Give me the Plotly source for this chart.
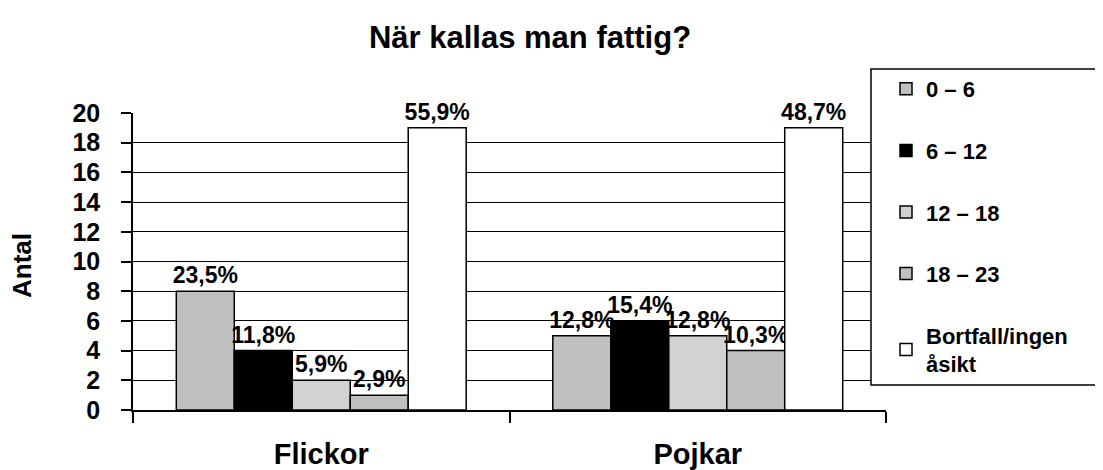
import plotly.graph_objects as go

categories = ["Flickor", "Pojkar"]
series_names = ["0 – 6", "6 – 12", "12 – 18", "18 – 23", "Bortfall/ingen<br>åsikt"]
vals_0_6 = [8, 5]
vals_6_12 = [4, 6]
vals_12_18 = [2, 5]
vals_18_23 = [1, 4]
vals_bortfall = [19, 19]
lab_0_6 = ["23,5%", "12,8%"]
lab_6_12 = ["11,8%", "15,4%"]
lab_12_18 = ["5,9%", "12,8%"]
lab_18_23 = ["2,9%", "10,3%"]
lab_bortfall = ["55,9%", "48,7%"]
y_ticks = list(range(0, 21, 2))

series_values = [vals_0_6, vals_6_12, vals_12_18, vals_18_23, vals_bortfall]
series_labels = [lab_0_6, lab_6_12, lab_12_18, lab_18_23, lab_bortfall]
colors = ["#c0c0c0", "#000000", "#d2d2d2", "#bfbfbf", "#ffffff"]

FONT = "Liberation Sans, Arial, sans-serif"

# the page body has an 8px margin; layout coords = screen coords - OFF
OFF = 8
W, H = 1103, 470
L, R, T, B = 133 - OFF, 886 - OFF, 113 - OFF, 410 - OFF
PW, PH = R - L, B - T


def px_x(p):  # screen x -> paper x
    return (p - OFF - L) / PW


def px_y(p):  # screen y -> paper y
    return (B - (p - OFF)) / PH


fig = go.Figure()
for i, (name, v, lab) in enumerate(zip(series_names, series_values, series_labels)):
    fig.add_trace(go.Bar(
        x=categories, y=v, name=name, text=lab,
        textposition="outside", constraintext="none", cliponaxis=False,
        textfont=dict(family=FONT, size=23, color="black", weight="bold"),
        marker=dict(color=colors[i], line=dict(color="black", width=1.5)),
        legendgroup=f"g{i}",
    ))

fig.update_layout(
    width=W, height=H, autosize=False,
    margin=dict(l=L, r=W - R, t=T, b=H - B),
    paper_bgcolor="white", plot_bgcolor="white",
    barmode="group", bargap=0.23, bargroupgap=0,
    font=dict(family=FONT, color="black"),
    title=dict(text="När kallas man fattig?", x=(530 - OFF) / W, xanchor="center",
               y=1 - (37 - OFF) / H, yanchor="middle",
               font=dict(family=FONT, size=31, color="black", weight="bold")),
    showlegend=True,
    legend=dict(xref="container", yref="container", x=(886 - OFF) / W, xanchor="left",
                y=1 - (68 - OFF) / H, yanchor="top", maxheight=420,
                bgcolor="rgba(0,0,0,0)", borderwidth=0,
                font=dict(family=FONT, size=22, color="black", weight="bold"),
                tracegroupgap=30, traceorder="grouped"),
    xaxis=dict(showline=True, linecolor="black", linewidth=1.5, automargin=False,
               ticks="outside", tickson="boundaries", ticklen=11, tickcolor="black",
               tickwidth=1.5, ticklabelstandoff=17,
               tickfont=dict(family=FONT, size=29, color="black", weight="bold")),
    yaxis=dict(range=[0, 20], tickvals=y_ticks, showline=True, linecolor="black",
               linewidth=1.5, ticks="outside", ticklen=10, tickcolor="black",
               automargin=False,
               tickwidth=1.5, showgrid=True, gridcolor="black", gridwidth=1.3,
               zeroline=False, ticklabelstandoff=16,
               tickfont=dict(family=FONT, size=25, color="black", weight="bold")),
    annotations=[dict(text="Antal", xref="paper", yref="paper",
                      x=px_x(22), y=px_y(266), xanchor="center", yanchor="middle",
                      textangle=-90, showarrow=False,
                      font=dict(family=FONT, size=26, color="black", weight="bold"))],
    shapes=[dict(type="rect", xref="paper", yref="paper",
                 x0=px_x(871), x1=px_x(1120), y0=px_y(385), y1=px_y(69),
                 fillcolor="white", line=dict(color="black", width=1.5),
                 layer="above")],
)

fig.write_html("out.html")
